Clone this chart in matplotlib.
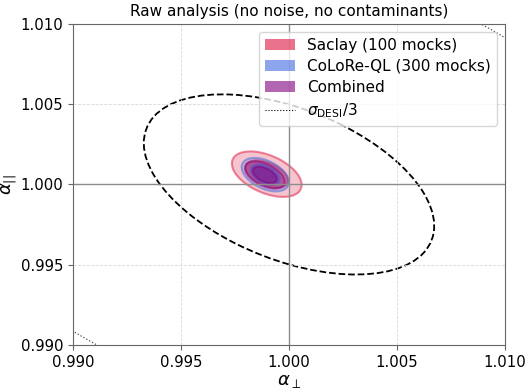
import numpy as np
import matplotlib
matplotlib.use("Agg")
import matplotlib.pyplot as plt
from matplotlib.patches import Ellipse, Patch
from matplotlib.lines import Line2D

# fits: centre (alpha_perp, alpha_par), 1-sigma errors and correlation
labels = ["Saclay (100 mocks)", "CoLoRe-QL (300 mocks)", "Combined"]
colors = ["crimson", "royalblue", "purple"]
ap_mean = [0.99897, 0.99890, 0.99888]
al_mean = [1.00064, 1.00061, 1.00059]
ap_sig = [0.00065, 0.00044, 0.00037]
al_sig = [0.00057, 0.00042, 0.00034]
rho = [-0.47, -0.45, -0.50]

# DESI forecast errors (full) and correlation
desi_ap_sig = 0.0133
desi_al_sig = 0.0111
desi_rho = -0.46
desi_scales = [3.0, 1.0]  # dashed: sigma/3, dotted: sigma

dchi2 = [6.18, 2.30]  # 95%, 68%


def ellipse(ax, x0, y0, sx, sy, r, d2, **kw):
    cov = np.array([[sx**2, r*sx*sy], [r*sx*sy, sy**2]])
    w, v = np.linalg.eigh(cov)
    ang = np.degrees(np.arctan2(v[1, 1], v[0, 1]))
    k = np.sqrt(d2)
    e = Ellipse((x0, y0), 2*k*np.sqrt(w[1]), 2*k*np.sqrt(w[0]), angle=ang, **kw)
    ax.add_patch(e)
    return e


fig, ax = plt.subplots(figsize=(5.31, 3.92), dpi=100)
fig.subplots_adjust(left=0.1375, right=0.951, bottom=0.12, top=0.939)

ax.grid(True, ls="--", lw=0.6, color="0.85")
ax.axvline(1.0, color="0.55", lw=1.0)
ax.axhline(1.0, color="0.55", lw=1.0)

for i in range(3):
    for d2, a in zip(dchi2, [0.25, 0.45]):
        ellipse(ax, ap_mean[i], al_mean[i], ap_sig[i], al_sig[i], rho[i], d2,
                facecolor=colors[i], alpha=a, edgecolor="none")
        ellipse(ax, ap_mean[i], al_mean[i], ap_sig[i], al_sig[i], rho[i], d2,
                facecolor="none", edgecolor=colors[i], alpha=0.5, lw=1.5)

for s, ls, lw, col in zip(desi_scales, ["--", ":"], [1.3, 0.9], ["k", "0.3"]):
    ellipse(ax, 1.0, 1.0, desi_ap_sig/s, desi_al_sig/s, desi_rho, 2.30,
            facecolor="none", edgecolor=col, ls=ls, lw=lw)

ax.set_xlim(0.990, 1.010)
ax.set_ylim(0.990, 1.010)
ax.set_xticks([0.990, 0.995, 1.000, 1.005, 1.010])
ax.set_yticks([0.990, 0.995, 1.000, 1.005, 1.010])
ax.tick_params(labelsize=10.7, color="0.4")
for sp in ax.spines.values():
    sp.set_color("0.4")
ax.set_xlabel(r"$\alpha_\perp$", fontsize=13, labelpad=2)
ax.set_ylabel(r"$\alpha_{||}$", fontsize=13)
ax.yaxis.set_label_coords(-0.125, 0.5)
ax.set_title("Raw analysis (no noise, no contaminants)", fontsize=11)

handles = [Patch(facecolor=c, alpha=0.6, edgecolor="none") for c in colors]
handles.append(Line2D([], [], color="k", ls=":", lw=0.8))
ax.legend(handles, labels + [r"$\sigma_{\rm DESI}/3$"], loc="upper right",
          fontsize=11, labelspacing=0.4)

fig.savefig("out.png", dpi=100)
